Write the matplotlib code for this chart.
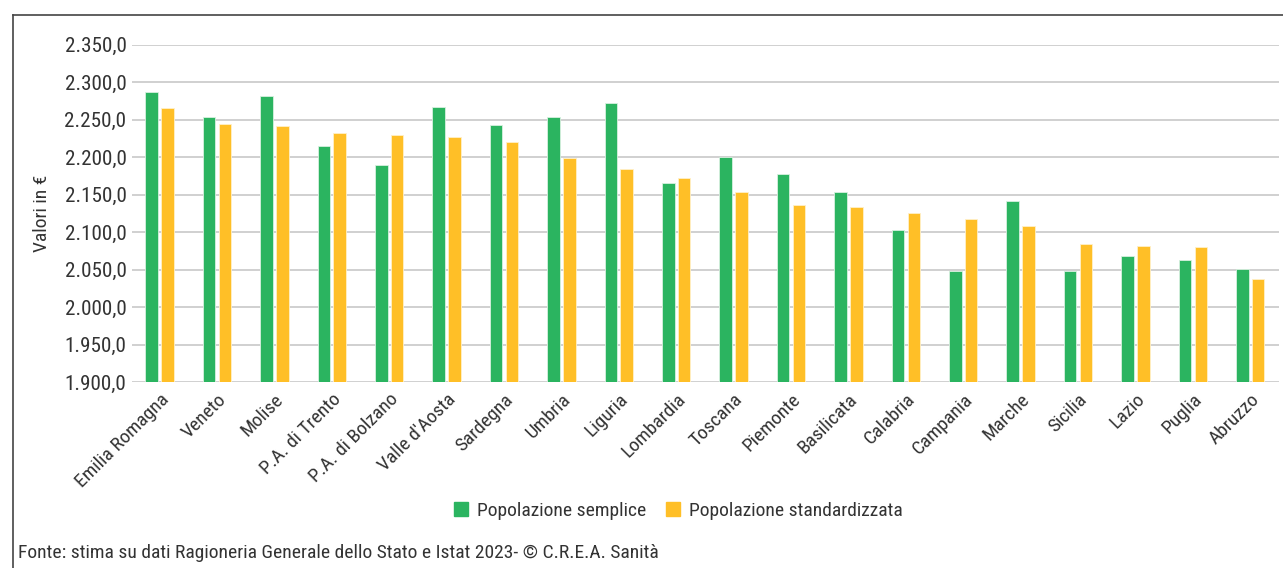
import numpy as np
import matplotlib.pyplot as plt
from matplotlib import font_manager
from matplotlib.ticker import FuncFormatter
from matplotlib.lines import Line2D

# font stretto se disponibile, altrimenti Liberation Sans
nomi = {f.name for f in font_manager.fontManager.ttflist}
scelta = [n for n in ['Liberation Sans Narrow', 'Roboto Condensed', 'Open Sans Condensed',
                      'Liberation Sans'] if n in nomi]
plt.rcParams['font.family'] = scelta[:1] + ['DejaVu Sans']
narrow = bool(scelta) and scelta[0] != 'Liberation Sans'
fs = 14 if narrow else 12.5

regioni = ['Emilia Romagna', 'Veneto', 'Molise', 'P.A. di Trento', 'P.A. di Bolzano',
           "Valle d'Aosta", 'Sardegna', 'Umbria', 'Liguria', 'Lombardia', 'Toscana',
           'Piemonte', 'Basilicata', 'Calabria', 'Campania', 'Marche', 'Sicilia',
           'Lazio', 'Puglia', 'Abruzzo']
semplice = [2286.5, 2253.0, 2281.5, 2215.0, 2189.0, 2267.0, 2243.0, 2253.0, 2272.0, 2165.0,
            2200.5, 2177.0, 2153.0, 2103.0, 2048.5, 2141.0, 2048.5, 2067.7, 2062.8, 2050.7]
standardizzata = [2265.0, 2244.0, 2241.0, 2232.0, 2229.5, 2227.0, 2220.0, 2199.0, 2184.0, 2172.5,
                  2153.0, 2136.5, 2134.0, 2125.0, 2117.5, 2107.7, 2084.0, 2082.0, 2079.7, 2037.0]
yticks = np.arange(1900, 2351, 50)

green = '#2BB460'
yellow = '#FFBF27'
txt = '#333333'

fig = plt.figure(figsize=(12.83, 5.68), dpi=100)
ax = fig.add_axes([132/1283, 1 - 382/568, (1279 - 132)/1283, (382 - 44.7)/568])

x = np.arange(len(regioni))
w = 0.218
off = 0.138
ax.bar(x - off, np.array(semplice) - 1900, w, bottom=1900, color=green,
       edgecolor='#d8f0df', linewidth=0.6, zorder=3)
ax.bar(x + off, np.array(standardizzata) - 1900, w, bottom=1900, color=yellow,
       edgecolor='#fff0c8', linewidth=0.6, zorder=3)

ax.set_xlim(-0.48, len(regioni) - 0.5)
ax.set_ylim(1900, 2350)
ax.set_yticks(yticks)
ax.yaxis.set_major_formatter(FuncFormatter(
    lambda v, p: f'{v:,.1f}'.replace(',', 'X').replace('.', ',').replace('X', '.')))
ax.grid(axis='y', color='#d0d0d0', linewidth=1.4, zorder=0)
for s in ax.spines.values():
    s.set_visible(False)
ax.tick_params(axis='y', length=0, pad=4, labelsize=fs * 1.09, labelcolor=txt)
ax.tick_params(axis='x', length=0, pad=6, labelsize=fs, labelcolor=txt)
ax.set_xticks(x)
ax.set_xticklabels(regioni, rotation=45, ha='right', rotation_mode='anchor')
ax.set_ylabel('Valori in €', fontsize=fs, color=txt, labelpad=10)

handles = [Line2D([], [], marker='s', linestyle='', markersize=10, color=green),
           Line2D([], [], marker='s', linestyle='', markersize=10, color=yellow)]
fig.legend(handles, ['Popolazione semplice', 'Popolazione standardizzata'],
           loc='center', bbox_to_anchor=(677/1283, 1 - 511/568), ncol=2, frameon=False,
           fontsize=fs, handlelength=1.0, handletextpad=0.3, columnspacing=0.9, labelcolor=txt)

fig.text(18/1283, 1 - 553/568, 'Fonte: stima su dati Ragioneria Generale dello Stato e Istat 2023- © C.R.E.A. Sanità',
         fontsize=fs, color=txt, va='center', ha='left')

# cornice
fig.add_artist(Line2D([13/1283, 13/1283], [0, 1 - 15/568], color='#444444', linewidth=1.2))
fig.add_artist(Line2D([13/1283, 1], [1 - 15/568, 1 - 15/568], color='#444444', linewidth=1.2))

fig.savefig('out.png', dpi=100)
